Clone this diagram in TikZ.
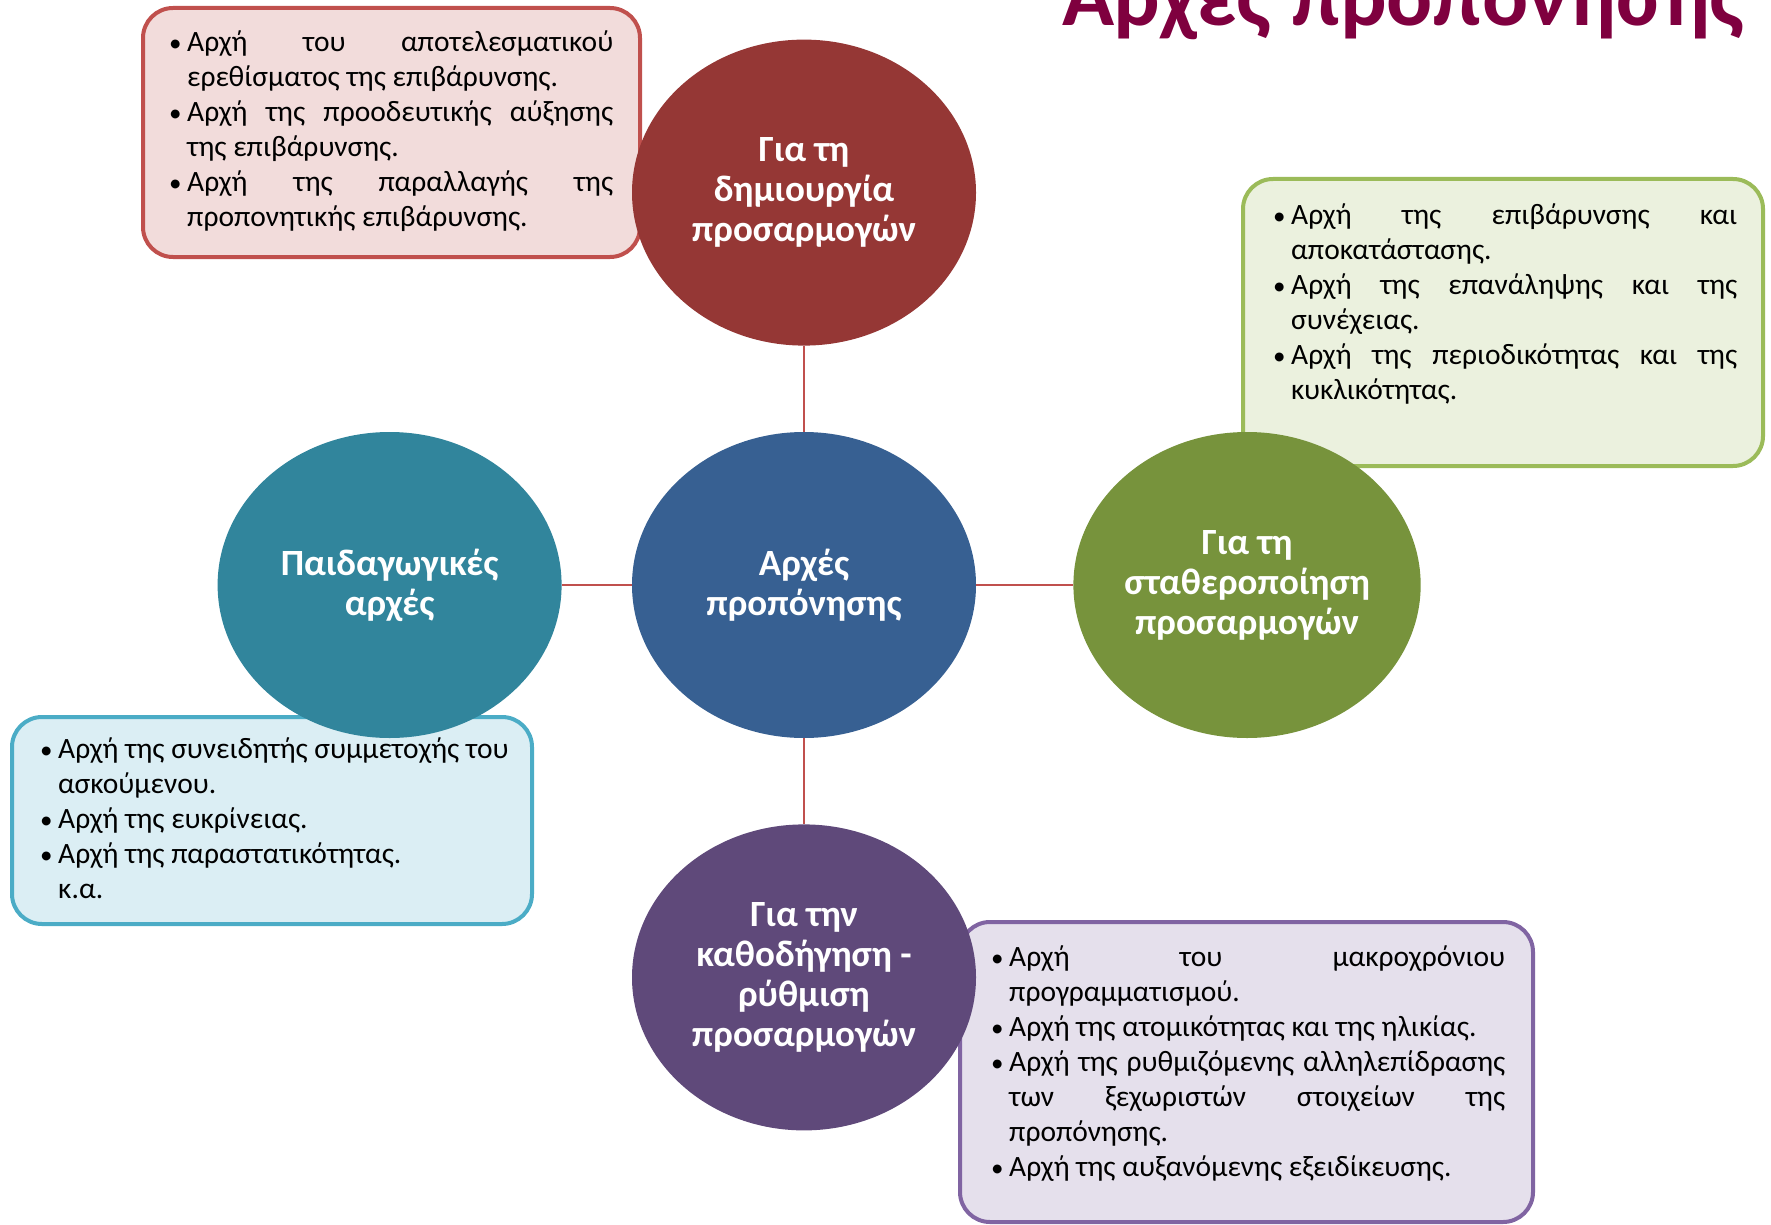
\documentclass[tikz,border=0pt]{standalone}
\usepackage{fontspec}
\setmainfont{Carlito}
\usetikzlibrary{shapes.geometric}
\usetikzlibrary{positioning}

\definecolor{titlered}{RGB}{127,0,63}
\definecolor{linkred}{HTML}{C0504D}
\definecolor{adaptfill}{HTML}{953735}
\definecolor{hubfill}{HTML}{376092}
\definecolor{pedfill}{HTML}{31859C}
\definecolor{stabfill}{HTML}{77933C}
\definecolor{guidefill}{HTML}{5F497A}
\definecolor{redline}{HTML}{C0504D}
\definecolor{redfill}{HTML}{F2DCDB}
\definecolor{greenline}{HTML}{9BBB59}
\definecolor{greenfill}{HTML}{EBF1DE}
\definecolor{blueline}{HTML}{4BACC6}
\definecolor{bluefill}{HTML}{DBEEF4}
\definecolor{purpleline}{HTML}{8064A2}
\definecolor{purplefill}{HTML}{E5E0EC}

% bullet, hanging indent and a justified line
\newcommand{\bul}{\makebox[18pt][l]{\fontsize{25}{35}\selectfont•}}
\newcommand{\ind}{\hspace*{18pt}}
\newcommand{\jl}[2]{\makebox[#1][s]{#2}}

\tikzset {
  % coloured ellipses
  topic/.style = {
    ellipse,
    minimum width = 344pt,
    minimum height = 306pt,
    inner sep = 0,
    align = center,
    text = white,
    font = \fontsize{37}{40}\selectfont\bfseries
  },
  % rounded boxes with the lists
  listbox/.style = {
    rectangle,
    rounded corners = 30pt,
    line width = 4pt,
    outer sep = 0,
    inner sep = 0
  },
  listtext/.style = {
    inner sep = 0,
    align = left,
    font = \fontsize{29.5}{35}\selectfont
  },
  link/.style = {
    draw = linkred,
    line width = 1.5pt
  }
}

\begin{document}
\begin{tikzpicture}[x=1pt, y=-1pt]
  \useasboundingbox (0,0) rectangle (1771,1225);

  \node[font = \fontsize{86}{100}\selectfont\bfseries, text = titlered,
    anchor = base east, inner sep = 0] (title) at (1745,26) {Αρχές προπόνησης};

  % boxes first, the ellipses lie over them
  \node[listbox, draw = redline, fill = redfill,
    minimum width = 497pt, minimum height = 249pt] (adaptbox) at (391.5,132.5) {};
  \node[listbox, draw = greenline, fill = greenfill,
    minimum width = 520pt, minimum height = 287pt] (stabbox) at (1503,322.5) {};
  \node[listbox, draw = blueline, fill = bluefill,
    minimum width = 520pt, minimum height = 207pt] (pedbox) at (272,820.5) {};
  \node[listbox, draw = purpleline, fill = purplefill,
    minimum width = 573pt, minimum height = 300pt] (guidebox) at (1246.5,1072) {};

  \node[listtext] (adapttxt) [below right=18.5pt and 26pt of adaptbox.north west] {%
    \strut\bul\jl{426pt}{Αρχή του αποτελεσματικού}\\
    \ind ερεθίσματος της επιβάρυνσης.\\
    \bul\jl{426pt}{Αρχή της προοδευτικής αύξησης}\\
    \ind της επιβάρυνσης.\\
    \bul\jl{426pt}{Αρχή της παραλλαγής της}\\
    \ind προπονητικής επιβάρυνσης.};
  \node[listtext] (stabtxt) [below right=20.5pt and 30pt of stabbox.north west] {%
    \strut\bul\jl{446pt}{Αρχή της επιβάρυνσης και}\\
    \ind αποκατάστασης.\\
    \bul\jl{446pt}{Αρχή της επανάληψης και της}\\
    \ind συνέχειας.\\
    \bul\jl{446pt}{Αρχή της περιοδικότητας και της}\\
    \ind κυκλικότητας.};
  \node[listtext] (pedtxt) [below right=16.5pt and 28pt of pedbox.north west] {%
    \strut\bul Αρχή της συνειδητής συμμετοχής του\\
    \ind ασκούμενου.\\
    \bul Αρχή της ευκρίνειας.\\
    \bul Αρχή της παραστατικότητας.\\
    \ind κ.α.};
  \node[listtext] (guidetxt) [below right=19.5pt and 31pt of guidebox.north west] {%
    \strut\bul\jl{496pt}{Αρχή του μακροχρόνιου}\\
    \ind προγραμματισμού.\\
    \bul Αρχή της ατομικότητας και της ηλικίας.\\
    \bul\jl{496pt}{Αρχή της ρυθμιζόμενης αλληλεπίδρασης}\\
    \ind\jl{496pt}{των ξεχωριστών στοιχείων της}\\
    \ind προπόνησης.\\
    \bul Αρχή της αυξανόμενης εξειδίκευσης.};

  % ellipses
  \node[topic, fill = hubfill] (hub) at (804,585) {Αρχές\\προπόνησης};
  \node[topic, fill = adaptfill] (adapt) [above=86pt of hub] {Για τη\\δημιουργία\\προσαρμογών};
  \node[topic, fill = pedfill] (ped) [left=70pt of hub] {Παιδαγωγικές\\αρχές};
  \node[topic, fill = stabfill] (stab) [right=97pt of hub] {Για τη\\σταθεροποίηση\\προσαρμογών};
  \node[topic, fill = guidefill] (guide) [below=86pt of hub] {Για την\\καθοδήγηση -\\ρύθμιση\\προσαρμογών};

  \draw[link] (hub) -- (adapt);
  \draw[link] (hub) -- (ped);
  \draw[link] (hub) -- (stab);
  \draw[link] (hub) -- (guide);
\end{tikzpicture}
\end{document}
